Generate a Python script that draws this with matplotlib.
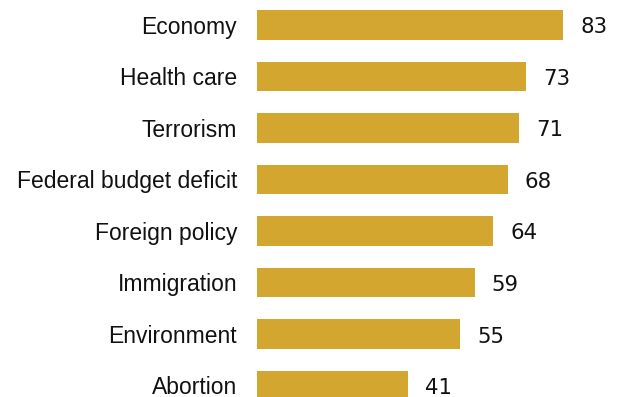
import matplotlib.pyplot as plt

# Share of voters saying each issue is very important
issues = ["Economy", "Health care", "Terrorism", "Federal budget deficit",
          "Foreign policy", "Immigration", "Environment", "Abortion"]
pct = [83, 73, 71, 68, 64, 59, 55, 41]

bar_color = "#D3A630"

fig = plt.figure(figsize=(6.17, 3.97), dpi=100)
ax = fig.add_axes([257 / 617, 0, 360 / 617, 1])

ypos = list(range(len(issues)))
ax.barh(ypos, pct, height=0.565, color=bar_color)

ax.set_xlim(0, 360 / 3.69)
ax.set_ylim(7.223, -0.485)

for y, v, name in zip(ypos, pct, issues):
    ax.text(v + 4.6, y + 0.165, str(v), va="baseline", ha="left",
            fontsize=15.3, family="DejaVu Sans", color="#111111")
    ax.text(-5.4, y + 0.17, name, va="baseline", ha="right",
            fontsize=16.5, family="Liberation Sans", color="#111111")

ax.axis("off")
fig.savefig("out.png", dpi=100)
